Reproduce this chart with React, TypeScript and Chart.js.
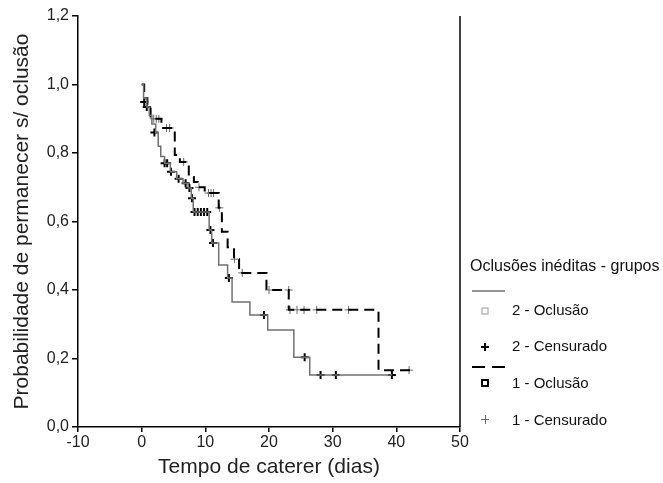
import React, { useEffect, useRef } from "react";
import { Chart, registerables } from "chart.js";

Chart.register(...registerables);

// Group 2 (grey solid) Kaplan-Meier steps: time of drop, survival after drop
const g2Times = [0, 0.3, 0.8, 1.2, 1.6, 2.2, 2.6, 3.0, 3.6, 4.5, 5.5, 6.5, 7.3, 7.8, 8.1, 10.6, 11.0, 12.1, 13.5, 14.2, 17.0, 19.8, 23.9, 26.4, 39.3];
const g2Surv = [1.0, 0.96, 0.934, 0.91, 0.885, 0.86, 0.82, 0.79, 0.77, 0.745, 0.725, 0.712, 0.698, 0.668, 0.628, 0.575, 0.537, 0.473, 0.435, 0.365, 0.327, 0.283, 0.204, 0.152, 0.152];
// Group 2 censored
const g2CensT = [0.4, 0.8, 2.0, 3.6, 4.0, 4.6, 5.8, 6.9, 7.5, 7.9, 8.3, 8.8, 9.3, 9.8, 10.3, 10.8, 11.2, 13.7, 19.2, 25.6, 28.1, 30.5, 39.3];
const g2CensS = [0.949, 0.934, 0.86, 0.77, 0.77, 0.745, 0.725, 0.712, 0.698, 0.668, 0.628, 0.628, 0.628, 0.628, 0.628, 0.575, 0.537, 0.435, 0.327, 0.204, 0.152, 0.152, 0.152];

// Group 1 (black dashed)
const g1Times = [0, 0.4, 0.9, 1.4, 3.1, 5.2, 6.0, 7.4, 8.2, 8.8, 9.9, 12.1, 12.6, 13.5, 14.5, 15.3, 19.6, 23.1, 37.2, 42.8];
const g1Surv = [1.0, 0.96, 0.93, 0.9, 0.873, 0.794, 0.774, 0.73, 0.715, 0.7, 0.683, 0.64, 0.57, 0.525, 0.49, 0.45, 0.4, 0.342, 0.166, 0.166];
// Group 1 censored
const g1CensT = [1.9, 2.3, 2.7, 3.9, 4.4, 6.6, 9.0, 10.5, 10.9, 11.3, 12.2, 14.6, 15.8, 20.0, 23.1, 23.3, 24.4, 25.5, 27.5, 32.5, 42.0];
const g1CensS = [0.9, 0.9, 0.9, 0.873, 0.873, 0.774, 0.7, 0.683, 0.683, 0.683, 0.64, 0.49, 0.45, 0.4, 0.4, 0.342, 0.342, 0.342, 0.342, 0.342, 0.166];

const xTicks = [-10, 0, 10, 20, 30, 40, 50];
const yTicks = [0, 0.2, 0.4, 0.6, 0.8, 1.0, 1.2];

const legendTitle = "Oclusões inéditas - grupos";
const legendLabels = ["2 - Oclusão", "2 - Censurado", "1 - Oclusão", "1 - Censurado"];

const FONT = "'Liberation Sans', Arial, sans-serif";
const GREY_LINE = "#707070";
const GREY_MARK = "#6a6a6a";

const pts = (xs: number[], ys: number[]) => xs.map((x, i) => ({ x, y: ys[i] }));

const extrasPlugin = {
  id: "extras",
  afterDraw(chart: any) {
    const { ctx, chartArea } = chart;
    ctx.save();
    // right frame line
    ctx.strokeStyle = "#000";
    ctx.lineWidth = 1.5;
    ctx.beginPath();
    ctx.moveTo(chartArea.right, chartArea.top);
    ctx.lineTo(chartArea.right, chartArea.bottom);
    ctx.stroke();

    // legend
    const lx = 470;
    ctx.fillStyle = "#111";
    ctx.textBaseline = "middle";
    ctx.textAlign = "left";
    ctx.font = `16px ${FONT}`;
    ctx.fillText(legendTitle, lx, 267);

    ctx.font = `15px ${FONT}`;
    const tx = 512;
    const mx = 485;
    // grey solid line
    ctx.strokeStyle = GREY_LINE;
    ctx.lineWidth = 1.5;
    ctx.beginPath();
    ctx.moveTo(472, 291);
    ctx.lineTo(505, 291);
    ctx.stroke();
    // grey square
    ctx.strokeStyle = "#9a9a9a";
    ctx.lineWidth = 1;
    ctx.strokeRect(mx - 3, 308, 6, 6);
    ctx.fillText(legendLabels[0], tx, 311);
    // black cross
    ctx.strokeStyle = "#000";
    ctx.lineWidth = 2;
    ctx.beginPath();
    ctx.moveTo(mx - 4, 347);
    ctx.lineTo(mx + 4, 347);
    ctx.moveTo(mx, 343);
    ctx.lineTo(mx, 351);
    ctx.stroke();
    ctx.fillText(legendLabels[1], tx, 347);
    // dashed black line
    ctx.lineWidth = 2;
    ctx.beginPath();
    ctx.moveTo(472, 367);
    ctx.lineTo(485, 367);
    ctx.moveTo(492, 367);
    ctx.lineTo(505, 367);
    ctx.stroke();
    // black square
    ctx.lineWidth = 2;
    ctx.strokeRect(mx - 3, 380, 6, 6);
    ctx.fillText(legendLabels[2], tx, 384);
    // grey cross
    ctx.strokeStyle = GREY_MARK;
    ctx.lineWidth = 1;
    ctx.beginPath();
    ctx.moveTo(mx - 4, 419.5);
    ctx.lineTo(mx + 4, 419.5);
    ctx.moveTo(mx + 0.5, 415);
    ctx.lineTo(mx + 0.5, 424);
    ctx.stroke();
    ctx.fillText(legendLabels[3], tx, 421);
    ctx.restore();
  },
};

export default function App() {
  const ref = useRef<HTMLCanvasElement>(null);
  useEffect(() => {
    if (!ref.current) return;
    const chart = new Chart(ref.current, {
      type: "scatter",
      data: {
        datasets: [
          {
            label: "2 - Oclusão",
            type: "line",
            data: pts(g2Times, g2Surv),
            borderColor: GREY_LINE,
            borderWidth: 1.5,
            stepped: "before",
            pointRadius: 0,
            fill: false,
          } as any,
          {
            label: "1 - Oclusão",
            type: "line",
            data: pts(g1Times, g1Surv),
            borderColor: "#000",
            borderWidth: 2,
            borderDash: [10, 6],
            stepped: "before",
            pointRadius: 0,
            fill: false,
          } as any,
          {
            label: "1 - Censurado",
            data: pts(g1CensT, g1CensS),
            pointStyle: "cross",
            pointRadius: 4,
            borderColor: GREY_MARK,
            borderWidth: 1,
            backgroundColor: GREY_MARK,
          },
          {
            label: "2 - Censurado",
            data: pts(g2CensT, g2CensS),
            pointStyle: "cross",
            pointRadius: 4,
            borderColor: "#000",
            borderWidth: 2,
            backgroundColor: "#000",
          },
        ],
      },
      options: {
        animation: false,
        responsive: false,
        layout: { padding: { left: 0, right: 203, top: 16, bottom: 0 } },
        plugins: { legend: { display: false }, tooltip: { enabled: false } },
        scales: {
          x: {
            type: "linear",
            min: -10,
            max: 50,
            afterBuildTicks: (s: any) => {
              s.ticks = xTicks.map((v) => ({ value: v }));
            },
            afterFit: (s: any) => {
              s.height = 56;
            },
            grid: { drawOnChartArea: false, drawTicks: true, tickLength: 5, color: "#000", lineWidth: 1.5 },
            border: { display: true, color: "#000", width: 1.5 },
            ticks: { color: "#222", font: { family: FONT, size: 16 }, padding: 1, maxRotation: 0 },
            title: {
              display: true,
              text: "Tempo de caterer (dias)",
              color: "#222",
              font: { family: FONT, size: 21, lineHeight: 1.2 },
              padding: { top: 0, bottom: 3 },
            },
          },
          y: {
            type: "linear",
            min: 0,
            max: 1.2,
            afterBuildTicks: (s: any) => {
              s.ticks = yTicks.map((v) => ({ value: v }));
            },
            afterFit: (s: any) => {
              s.width = 78;
            },
            grid: { drawOnChartArea: false, drawTicks: true, tickLength: 6, color: "#000", lineWidth: 1.5 },
            border: { display: true, color: "#000", width: 1.5 },
            ticks: {
              color: "#222",
              font: { family: FONT, size: 16 },
              padding: 3,
              callback: (v: any) => Number(v).toFixed(1).replace(".", ","),
            },
            title: {
              display: true,
              text: "Probabilidade de permanecer s/ oclusão",
              color: "#222",
              font: { family: FONT, size: 21, lineHeight: 1.2 },
              padding: { top: 10, bottom: 0 },
            },
          },
        },
      },
      plugins: [extrasPlugin],
    });
    return () => chart.destroy();
  }, []);
  return (
    <div style={{ position: "fixed", left: 0, top: 0, width: 663, height: 483, background: "#fff" }}>
      <canvas ref={ref} width={663} height={483} style={{ display: "block" }} />
    </div>
  );
}
